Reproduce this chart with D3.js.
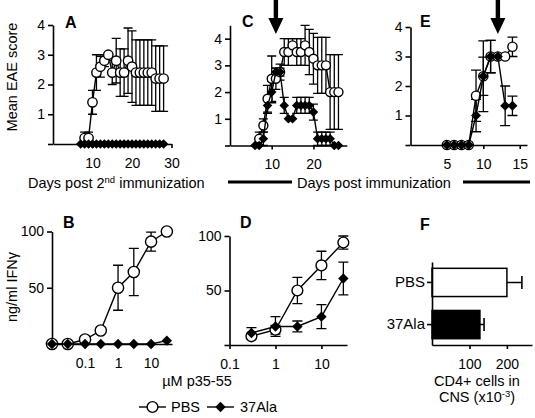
<!DOCTYPE html>
<html><head><meta charset="utf-8">
<script src="https://cdn.jsdelivr.net/npm/d3@7"></script>
<style>body{margin:0;background:#fff}svg{display:block}</style>
</head><body><svg id="c" width="535" height="418"></svg>
<script>
// ---------- DATA ----------
// Panel A: EAE score after 2nd immunization
const aDaysPBS = [8,9,10,11,12,13,14,15,16,17,18,19,20,21,22,23,24,25,26,27,28];
const aPBS     = [0.2,0.2,1.4,2.4,2.6,2.8,3.0,2.4,2.8,2.4,2.4,2.8,2.6,2.4,2.4,2.4,2.4,2.4,2.2,2.2,2.2];
const aPBSErr  = [0.2,0.2,0.4,0.6,0.35,0.2,0,0.4,0.75,0.8,0.8,1.1,1.2,1.1,1.1,1.1,1.1,1.1,1.1,1.1,1.1];
const aDaysAla = [7,8,9,10,11,12,13,14,15,16,17,18,19,20,21,22,23,24,25,26,27,28];
const aAla     = [0,0,0,0,0,0,0,0,0,0,0,0,0,0,0,0,0,0,0,0,0,0];
// Panel C
const cDaysPBS = [7,8,9,10,11,12,13,14,15,16,17,18,19,20,21,22,23,24,25,26];
const cPBS     = [0.25,0.75,1.75,2.5,2.5,2.75,3.5,3.5,3.75,3.5,3.5,3.75,3.5,3.25,3.0,3.0,3.0,2.0,2.0,2.0];
const cPBSErr  = [0.25,0.25,0.5,0.85,0.4,0.3,0.5,0.5,0.25,0.5,0.5,0.75,0.85,0.95,1.05,1.05,1.05,1.4,1.4,1.4];
const cDaysAla = [6,7,8,9,10,11,12,13,14,15,16,17,18,19,20,21,22,23,24,25,26];
const cAla     = [0,0,0.25,1.5,2.0,2.75,2.75,1.5,1.0,1.0,1.5,1.5,1.5,1.5,1.25,0.25,0.25,0.25,0.25,0,0];
const cAlaErr  = [0,0,0.25,0.3,0.4,0.15,0.15,0.3,0,0,0.3,0.3,0.3,0.3,0.3,0.25,0.25,0.25,0.25,0,0];
const cArrowDay = 11;
// Panel E
const eDays    = [5,6,7,8,9,10,11,12,13,14];
const ePBS     = [0,0,0,0,1.67,2.33,3.0,3.0,3.0,3.33];
const ePBSErr  = [0,0,0,0,0.87,1.2,0.55,0,0,0.33];
const eAla     = [0,0,0,0,1.0,2.33,3.0,3.0,1.33,1.33];
const eAlaErr  = [0,0,0,0,0.55,0.65,0.55,0,0.67,0.33];
const eArrowDay = 12;
// Panel B: IFNg vs peptide
const bConc    = [0.01,0.03,0.1,0.3,1,3,10,30];
const bPBS     = [0,0,4,12,50,64,91,100];
const bPBSErr  = [0,0,0,0,20,21,8.5,0];
const bAla     = [0,0,0,0,0,0,0,3];
// Panel D
const dConc    = [0.3,1,3,10,30];
const dPBS     = [8,14,50,73,94];
const dPBSErr  = [0,4,12,13,6];
const dAla     = [11,17,17,26,61];
const dAlaErr  = [5,9,5,11,15];
// Panel F
const fCats    = ["PBS","37Ala"];
const fVals    = [200,128];
const fErr     = [40,11];
// tick labels
const scoreTicks = [0,1,2,3,4];
const aDayTicks = [10,20,30];
const cDayTicks = [10,20];
const eDayTicks = [5,10,15];
const ifnTicks = [0,50,100];
const concTicks = [0.1,1,10];
const fTicks = [100,200];

// ---------- DRAWING ----------
const FONT = '"Liberation Sans", Arial, Helvetica, sans-serif';
const svg = d3.select("#c").style("font-family", FONT);

function styleAxis(g, fs){
  g.select(".domain").attr("stroke","#000").attr("stroke-width",1.6);
  g.selectAll(".tick line").attr("stroke","#000").attr("stroke-width",1.6);
  g.selectAll(".tick text").attr("font-size",fs).attr("font-family",FONT).attr("fill","#000");
}
function errorBars(xs, ys, es, x, y, cap){
  const data = xs.map((d,i)=>({x:d,y:ys[i],e:es[i]})).filter(d=>d.e>0);
  svg.append("g").selectAll("path").data(data).join("path")
    .attr("d", d=>{
      const px=x(d.x), y1=y(d.y+d.e), y0=y(Math.max(0,d.y-d.e));
      return `M${px},${y0}V${y1}M${px-cap},${y1}H${px+cap}M${px-cap},${y0}H${px+cap}`;
    })
    .attr("stroke","#000").attr("stroke-width",1.3).attr("fill","none");
}
function series(xs, ys, x, y, type, r){
  const pts = xs.map((d,i)=>[x(d), y(ys[i])]);
  const g = svg.append("g");
  g.append("path").attr("d", d3.line()(pts)).attr("fill","none").attr("stroke","#000").attr("stroke-width",1.4);
  if(type==="circle"){
    g.selectAll("circle").data(pts).join("circle").attr("cx",p=>p[0]).attr("cy",p=>p[1]).attr("r",r)
      .attr("fill","#fff").attr("stroke","#000").attr("stroke-width",1.4);
  } else {
    g.selectAll(".dm").data(pts).join("path").attr("class","dm")
      .attr("d",p=>`M${p[0]},${p[1]-r}L${p[0]+r},${p[1]}L${p[0]},${p[1]+r}L${p[0]-r},${p[1]}Z`)
      .attr("fill","#000");
  }
}
function label(txt, x, y){
  svg.append("text").attr("x",x).attr("y",y).attr("font-size",16).attr("font-weight","bold").text(txt);
}
function arrow(x){
  svg.append("path").attr("d",`M${x-2.2},0V18H${x-7.5}L${x},34L${x+7.5},18H${x+2.2}V0Z`).attr("fill","#000");
}

// Panel A
const xA = d3.scaleLinear([0,30],[53,171.5]);
const yA = d3.scaleLinear([0,4],[144,25]);
styleAxis(svg.append("g").attr("transform","translate(53,0)")
  .call(d3.axisLeft(yA).tickValues(scoreTicks).tickFormat(d=>d?d:"").tickSize(5).tickPadding(3).tickSizeOuter(0)),14);
styleAxis(svg.append("g").attr("transform","translate(0,144)")
  .call(d3.axisBottom(xA).tickValues(aDayTicks).tickSize(4).tickPadding(10).tickSizeOuter(0)),14);
errorBars(aDaysPBS, aPBS, aPBSErr, xA, yA, 4.5);
series(aDaysPBS, aPBS, xA, yA, "circle", 4.7);
series(aDaysAla, aAla, xA, yA, "diamond", 4.8);
label("A", 65, 28);

// Panel C
const xC = d3.scaleLinear([0,28],[230,346.8]);
const yC = d3.scaleLinear([0,4.5],[145.5,25.3]);
styleAxis(svg.append("g").attr("transform","translate(230,0)")
  .call(d3.axisLeft(yC).tickValues(scoreTicks).tickFormat(d=>d?d:"").tickSize(5).tickPadding(3).tickSizeOuter(0)),14);
styleAxis(svg.append("g").attr("transform","translate(0,145.5)")
  .call(d3.axisBottom(xC).tickValues(cDayTicks).tickSize(4).tickPadding(10).tickSizeOuter(0)),14);
errorBars(cDaysPBS, cPBS, cPBSErr, xC, yC, 4.5);
errorBars(cDaysAla, cAla, cAlaErr, xC, yC, 4.5);
series(cDaysPBS, cPBS, xC, yC, "circle", 4.5);
series(cDaysAla, cAla, xC, yC, "diamond", 4.8);
label("C", 242, 27);
arrow(xC(cArrowDay));

// Panel E
const xE = d3.scaleLinear([0,16],[410.5,527]);
const yE = d3.scaleLinear([0,4],[145,27]);
styleAxis(svg.append("g").attr("transform","translate(410.5,0)")
  .call(d3.axisLeft(yE).tickValues(scoreTicks).tickFormat(d=>d?d:"").tickSize(5).tickPadding(3).tickSizeOuter(0)),14);
styleAxis(svg.append("g").attr("transform","translate(0,145)")
  .call(d3.axisBottom(xE).tickValues(eDayTicks).tickSize(4).tickPadding(10).tickSizeOuter(0)),14);
errorBars(eDays, ePBS, ePBSErr, xE, yE, 5);
errorBars(eDays, eAla, eAlaErr, xE, yE, 5);
series(eDays, ePBS, xE, yE, "circle", 4.6);
series(eDays, eAla, xE, yE, "diamond", 5);
label("E", 420, 27);
arrow(xE(eArrowDay));

// Panel B
const xB = d3.scaleLog([0.01,43],[52,172]);
const yB = d3.scaleLinear([0,100],[344,231.5]);
styleAxis(svg.append("g").attr("transform","translate(52,0)")
  .call(d3.axisLeft(yB).tickValues(ifnTicks).tickFormat(d=>d?d:"").tickSize(5).tickPadding(3).tickSizeOuter(0)),14);
styleAxis(svg.append("g").attr("transform","translate(0,344)")
  .call(d3.axisBottom(xB).tickValues(concTicks).tickFormat(d=>String(d)).tickSize(4).tickPadding(10).tickSizeOuter(0)),14);
errorBars(bConc, bPBS, bPBSErr, xB, yB, 5);
series(bConc, bPBS, xB, yB, "circle", 5.6);
series(bConc, bAla, xB, yB, "diamond", 5.2);
label("B", 63, 228);

// Panel D
const xD = d3.scaleLog([0.1,36],[229.5,347]);
const yD = d3.scaleLinear([0,100],[345,236]);
styleAxis(svg.append("g").attr("transform","translate(229.5,0)")
  .call(d3.axisLeft(yD).tickValues(ifnTicks).tickFormat(d=>d?d:"").tickSize(5).tickPadding(3).tickSizeOuter(0)),14);
styleAxis(svg.append("g").attr("transform","translate(0,345)")
  .call(d3.axisBottom(xD).tickValues(concTicks).tickFormat(d=>String(d)).tickSize(4).tickPadding(10).tickSizeOuter(0)),14);
errorBars(dConc, dPBS, dPBSErr, xD, yD, 5);
errorBars(dConc, dAla, dAlaErr, xD, yD, 5);
series(dConc, dPBS, xD, yD, "circle", 5.4);
series(dConc, dAla, xD, yD, "diamond", 5.2);
label("D", 240, 228);

// Panel F
const xF = d3.scaleLinear([0,267],[432,532]);
const yF = d3.scaleBand(fCats,[262,345]).paddingInner(0.33).paddingOuter(0.15);
svg.append("g").selectAll("rect").data(fCats).join("rect")
  .attr("x",xF(0)).attr("y",d=>yF(d)).attr("height",yF.bandwidth())
  .attr("width",(d,i)=>xF(fVals[i])-xF(0))
  .attr("fill",(d,i)=>i===0?"#fff":"#000").attr("stroke","#000").attr("stroke-width",1.5);
svg.append("g").selectAll("path").data(fCats).join("path")
  .attr("d",(d,i)=>{const yc=yF(d)+yF.bandwidth()/2, x0=xF(fVals[i]), x1=xF(fVals[i]+fErr[i]);
    return `M${x0},${yc}H${x1}M${x1},${yc-6.5}V${yc+6.5}`;})
  .attr("stroke","#000").attr("stroke-width",1.6).attr("fill","none");
styleAxis(svg.append("g").attr("transform","translate(432,0)")
  .call(d3.axisLeft(yF).tickSize(5).tickPadding(2).tickSizeOuter(0)),15);
styleAxis(svg.append("g").attr("transform","translate(0,345)")
  .call(d3.axisBottom(xF).tickValues(fTicks).tickSize(4).tickPadding(10).tickSizeOuter(0)),14);
label("F", 420, 230);

// ---------- TITLES ----------
svg.append("text").attr("transform","translate(17,77) rotate(-90)").attr("text-anchor","middle")
  .attr("font-size",14.5).text("Mean EAE score");
svg.append("text").attr("transform","translate(17,287) rotate(-90)").attr("text-anchor","middle")
  .attr("font-size",14.5).text("ng/ml IFNγ");
const t1 = svg.append("text").attr("x",28).attr("y",188).attr("font-size",14.5);
t1.append("tspan").text("Days post 2");
t1.append("tspan").attr("dy",-5).attr("font-size",9.5).text("nd");
t1.append("tspan").attr("dy",5).text(" immunization");
svg.append("line").attr("x1",228).attr("x2",292).attr("y1",182).attr("y2",182).attr("stroke","#000").attr("stroke-width",3);
svg.append("text").attr("x",297).attr("y",188).attr("font-size",14.5).text("Days post immunization");
svg.append("line").attr("x1",463).attr("x2",530).attr("y1",182).attr("y2",182).attr("stroke","#000").attr("stroke-width",3);
svg.append("text").attr("x",197).attr("y",386).attr("text-anchor","middle").attr("font-size",14.5).text("µM p35-55");
svg.append("text").attr("x",477).attr("y",386).attr("text-anchor","middle").attr("font-size",14.5).text("CD4+ cells in");
const t2 = svg.append("text").attr("x",477).attr("y",402).attr("text-anchor","middle").attr("font-size",14.5);
t2.append("tspan").text("CNS (x10");
t2.append("tspan").attr("dy",-5).attr("font-size",9.5).text("-3");
t2.append("tspan").attr("dy",5).text(")");

// ---------- LEGEND ----------
const lg = svg.append("g");
lg.append("line").attr("x1",139).attr("x2",166).attr("y1",407).attr("y2",407).attr("stroke","#000").attr("stroke-width",1.4);
lg.append("circle").attr("cx",152.5).attr("cy",407).attr("r",5.4).attr("fill","#fff").attr("stroke","#000").attr("stroke-width",1.4);
lg.append("text").attr("x",171).attr("y",412).attr("font-size",14.5).text(fCats[0]);
lg.append("line").attr("x1",207).attr("x2",234).attr("y1",407).attr("y2",407).attr("stroke","#000").attr("stroke-width",1.4);
lg.append("path").attr("d","M220.5,401.8L225.7,407L220.5,412.2L215.3,407Z").attr("fill","#000");
lg.append("text").attr("x",240).attr("y",412).attr("font-size",14.5).text(fCats[1]);
</script></body></html>
